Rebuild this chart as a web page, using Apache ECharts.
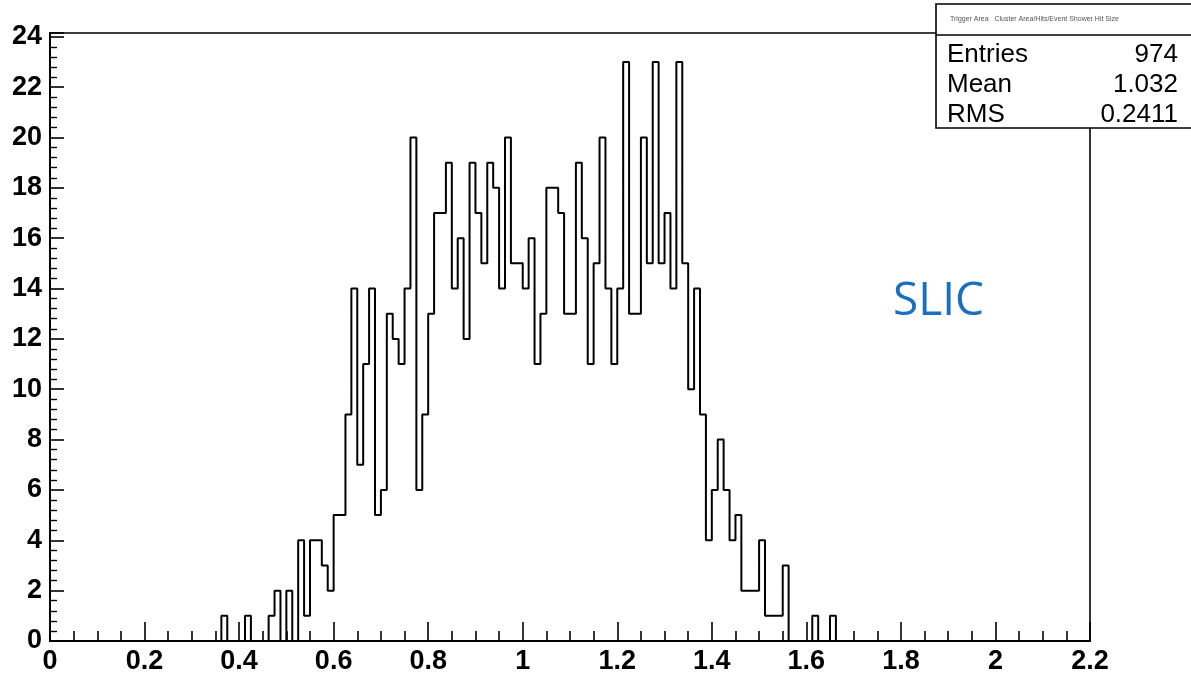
<!DOCTYPE html>
<html>
<head>
<meta charset="utf-8">
<script src="https://cdn.jsdelivr.net/npm/echarts@6/dist/echarts.min.js"></script>
<style>
  html, body { margin: 0; padding: 0; background: #fff; }
  #chart { width: 1191px; height: 677px; }
</style>
</head>
<body>
<div id="chart"></div>
<script>
// Histogram binning: 176 bins of width 0.0125 over [0, 2.2]
const xMin = 0;
const xMax = 2.2;
const binWidth = 0.0125;

// Entries per bin, bin 0 first
const counts = [
  0, 0, 0, 0, 0, 0, 0, 0, 0, 0,
  0, 0, 0, 0, 0, 0, 0, 0, 0, 0,
  0, 0, 0, 0, 0, 0, 0, 0, 0, 1,
  0, 0, 0, 1, 0, 0, 0, 1, 2, 0,
  2, 0, 4, 1, 4, 4, 3, 2, 5, 5,
  9, 14, 7, 11, 14, 5, 6, 13, 12, 11,
  14, 20, 6, 9, 13, 17, 17, 19, 14, 16,
  12, 19, 17, 15, 19, 18, 14, 20, 15, 15,
  14, 16, 11, 13, 18, 18, 17, 13, 13, 19,
  16, 11, 15, 20, 14, 11, 14, 23, 13, 13,
  20, 15, 23, 15, 17, 14, 23, 15, 10, 14,
  9, 4, 6, 8, 6, 4, 5, 2, 2, 2,
  4, 1, 1, 1, 3, 0, 0, 0, 0, 1,
  0, 0, 1, 0, 0, 0, 0, 0, 0, 0,
  0, 0, 0, 0, 0, 0, 0, 0, 0, 0,
  0, 0, 0, 0, 0, 0, 0, 0, 0, 0,
  0, 0, 0, 0, 0, 0, 0, 0, 0, 0,
  0, 0, 0, 0, 0, 0
];

// Statistics box contents
const statsTitle = 'Trigger Area   Cluster Area/Hits/Event Shower Hit Size';
const statsLabels = ['Entries', 'Mean', 'RMS'];
const statsValues = ['974', '1.032', '0.2411'];
const tagText = 'SLIC';

// Axis ranges and tick spacing
const yMax = 24.15;
const yStep = 2;
const xStep = 0.2;

// Step outline: left edge of each bin, plus the closing right edge
const outline = counts.map((c, i) => [xMin + i * binWidth, c]);
outline.push([xMax, counts[counts.length - 1]]);

const labelFont = {
  fontFamily: 'Liberation Sans, Arial, sans-serif',
  fontWeight: 'bold',
  fontSize: 27,
  color: '#000'
};

const chart = echarts.init(document.getElementById('chart'), null, { renderer: 'canvas' });

const statsGraphics = [
  {
    type: 'rect', z: 100,
    shape: { x: 936, y: 4, width: 270, height: 124 },
    style: { fill: '#fff', stroke: '#000', lineWidth: 1.6 }
  },
  {
    type: 'line', z: 101,
    shape: { x1: 936, y1: 35, x2: 1200, y2: 35 },
    style: { stroke: '#000', lineWidth: 1.4 }
  },
  {
    type: 'text', z: 102, left: 950, top: 16,
    style: { text: statsTitle, fontSize: 7, fill: '#555', fontFamily: 'Liberation Sans, Arial, sans-serif' }
  }
];
statsLabels.forEach((lab, i) => {
  statsGraphics.push({
    type: 'text', z: 102, x: 947, y: 55 + i * 30,
    style: {
      text: lab, fontSize: 26, fill: '#000',
      fontFamily: 'Liberation Sans, Arial, sans-serif',
      verticalAlign: 'middle', align: 'left'
    }
  });
  statsGraphics.push({
    type: 'text', z: 102, x: 1178, y: 55 + i * 30,
    style: {
      text: statsValues[i], fontSize: 26, fill: '#000',
      fontFamily: 'Liberation Sans, Arial, sans-serif',
      verticalAlign: 'middle', align: 'right'
    }
  });
});
statsGraphics.push({
  type: 'text', z: 50, x: 893, y: 302,
  style: {
    text: tagText, fontSize: 46, fill: '#1a6fc0',
    fontFamily: 'Open Sans, Noto Sans, sans-serif',
    verticalAlign: 'middle', align: 'left'
  }
});

chart.setOption({
  animation: false,
  backgroundColor: '#fff',
  grid: {
    left: 50, right: 101, top: 33, bottom: 36,
    show: true, borderColor: '#000', borderWidth: 1.6, backgroundColor: 'transparent'
  },
  xAxis: {
    type: 'value',
    min: xMin, max: xMax, interval: xStep,
    axisLine: { show: true, onZero: false, lineStyle: { color: '#000', width: 2 } },
    axisTick: { show: true, inside: true, length: 19, lineStyle: { color: '#000', width: 1.6 } },
    minorTick: { show: true, splitNumber: 4, length: 10, lineStyle: { color: '#000', width: 1.6 } },
    splitLine: { show: false },
    minorSplitLine: { show: false },
    axisLabel: Object.assign({}, labelFont, {
      margin: 7,
      formatter: v => String(Math.round(v * 10) / 10)
    })
  },
  yAxis: {
    type: 'value',
    min: 0, max: yMax, interval: yStep,
    axisLine: { show: true, lineStyle: { color: '#000', width: 2 } },
    axisTick: { show: true, inside: true, length: 14, lineStyle: { color: '#000', width: 1.6 } },
    minorTick: { show: true, splitNumber: 5, length: 7, lineStyle: { color: '#000', width: 1.4 } },
    splitLine: { show: false },
    minorSplitLine: { show: false },
    axisLabel: Object.assign({}, labelFont, {
      margin: 8,
      showMaxLabel: false,
      formatter: v => (Math.abs(v - Math.round(v)) < 1e-6 ? String(Math.round(v)) : '')
    })
  },
  series: [{
    type: 'line',
    step: 'end',
    data: outline,
    showSymbol: false,
    symbol: 'none',
    lineStyle: { color: '#000', width: 2 },
    z: 10
  }],
  graphic: statsGraphics
});
</script>
</body>
</html>
